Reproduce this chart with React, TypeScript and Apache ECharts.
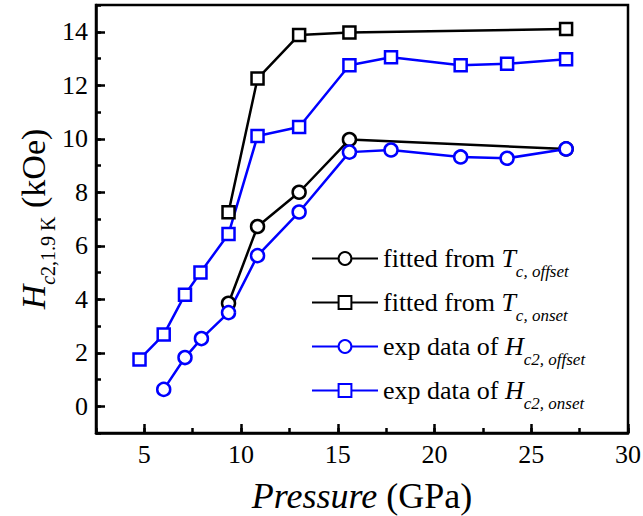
import React, { useEffect, useRef } from 'react';
import * as echarts from 'echarts';

// Pressure (GPa) and Hc2 (kOe) values
const fitOffsetP = [9.35, 10.85, 13.0, 15.6, 26.8];
const fitOffsetH = [3.85, 6.72, 8.0, 9.97, 9.62];
const fitOnsetP = [9.35, 10.85, 13.0, 15.6, 26.8];
const fitOnsetH = [7.25, 12.25, 13.88, 13.97, 14.1];
const expOffsetP = [6.0, 7.1, 7.95, 9.35, 10.85, 13.0, 15.6, 17.75, 21.35, 23.75, 26.8];
const expOffsetH = [0.63, 1.82, 2.53, 3.5, 5.63, 7.26, 9.5, 9.58, 9.32, 9.27, 9.62];
const expOnsetP = [4.75, 6.0, 7.1, 7.9, 9.35, 10.85, 13.0, 15.6, 17.75, 21.35, 23.75, 26.8];
const expOnsetH = [1.75, 2.68, 4.17, 5.0, 6.44, 10.1, 10.44, 12.75, 13.05, 12.75, 12.8, 12.97];

const xMajorTicks = [5, 10, 15, 20, 25, 30];
const yMajorTicks = [0, 2, 4, 6, 8, 10, 12, 14];

const seriesNames = [
  'fitted from Tc, offset',
  'fitted from Tc, onset',
  'exp data of Hc2, offset',
  'exp data of Hc2, onset',
];
const legendRich: Record<string, string> = {
  'fitted from Tc, offset': '{n|fitted from }{i|T}{s|c, offset}',
  'fitted from Tc, onset': '{n|fitted from }{i|T}{s|c, onset}',
  'exp data of Hc2, offset': '{n|exp data of }{i|H}{s|c2, offset}',
  'exp data of Hc2, onset': '{n|exp data of }{i|H}{s|c2, onset}',
};

const FONT = 'Liberation Serif';

const zip = (a: number[], b: number[]) => a.map((v, i) => [v, b[i]]);

export default function App() {
  const ref = useRef<HTMLDivElement>(null);
  useEffect(() => {
    if (!ref.current) return;
    const chart = echarts.init(ref.current, null, { renderer: 'svg' });
    const mk = (name: string, p: number[], h: number[], color: string, symbol: string, size: number) => ({
      name,
      type: 'line',
      data: zip(p, h),
      symbol,
      symbolSize: size,
      showSymbol: true,
      color,
      lineStyle: { color, width: 2.5 },
      itemStyle: { color: '#fff', borderColor: color, borderWidth: 2.5 },
      z: 3,
    });
    const tickLine = { color: '#000', width: 2.5 };
    chart.setOption({
      animation: false,
      backgroundColor: '#fff',
      textStyle: { fontFamily: FONT },
      grid: {
        left: 96,
        right: 15,
        top: 5,
        bottom: 83,
        containLabel: false,
        outerBoundsMode: 'none',
        show: true,
        borderColor: '#000',
        borderWidth: 2.5,
        backgroundColor: 'transparent',
      },
      legend: {
        orient: 'vertical',
        left: 306,
        top: 232,
        itemWidth: 66,
        itemHeight: 16,
        itemGap: 1,
        data: seriesNames,
        formatter: (name: string) => legendRich[name] || name,
        textStyle: {
          fontFamily: FONT,
          fontSize: 26,
          color: '#000',
          rich: {
            n: { fontFamily: FONT, fontSize: 26, color: '#000', lineHeight: 28 },
            i: { fontFamily: FONT, fontSize: 26, fontStyle: 'italic', color: '#000', lineHeight: 28 },
            s: { fontFamily: FONT, fontSize: 17, fontStyle: 'italic', color: '#000', lineHeight: 18, padding: [26, 0, 0, 0] },
          },
        },
      },
      xAxis: [
        {
          type: 'value',
          min: 2.5,
          max: 30,
          interval: 2.5,
          splitLine: { show: false },
          axisLine: { show: true, onZero: false, lineStyle: tickLine },
          axisTick: { show: true, inside: true, length: 9, customValues: xMajorTicks, lineStyle: tickLine },
          axisLabel: { customValues: xMajorTicks, fontFamily: FONT, fontSize: 26, color: '#000', margin: 8 },
          name: '{i|Pressure}{n| (GPa)}',
          nameLocation: 'middle',
          nameGap: 43,
          nameMoveOverlap: false,
          nameTextStyle: {
            fontFamily: FONT,
            rich: {
              i: { fontFamily: FONT, fontSize: 36, fontStyle: 'italic', color: '#000', lineHeight: 40 },
              n: { fontFamily: FONT, fontSize: 36, color: '#000', lineHeight: 40 },
            },
          },
        },
        {
          type: 'value',
          min: 2.5,
          max: 30,
          interval: 2.5,
          position: 'bottom',
          splitLine: { show: false },
          axisLine: { show: false, onZero: false },
          axisLabel: { show: false },
          axisTick: { show: true, inside: true, length: 5, lineStyle: tickLine },
        },
      ],
      yAxis: [
        {
          type: 'value',
          min: -1,
          max: 15,
          interval: 1,
          splitLine: { show: false },
          axisLine: { show: true, onZero: false, lineStyle: tickLine },
          axisTick: { show: true, inside: true, length: 9, customValues: yMajorTicks, lineStyle: tickLine },
          axisLabel: { customValues: yMajorTicks, fontFamily: FONT, fontSize: 26, color: '#000', margin: 8 },
          name: '{i|H}{si|c}{s|2,1.9 K}{n| (kOe)}',
          nameLocation: 'middle',
          nameRotate: 90,
          nameGap: 46,
          nameMoveOverlap: false,
          nameTextStyle: {
            fontFamily: FONT,
            rich: {
              i: { fontFamily: FONT, fontSize: 34, fontStyle: 'italic', color: '#000', lineHeight: 34 },
              n: { fontFamily: FONT, fontSize: 34, color: '#000', lineHeight: 34 },
              si: { fontFamily: FONT, fontSize: 20, fontStyle: 'italic', color: '#000', lineHeight: 20, padding: [30, 0, 0, 0] },
              s: { fontFamily: FONT, fontSize: 20, color: '#000', lineHeight: 20, padding: [30, 0, 0, 0] },
            },
          },
        },
        {
          type: 'value',
          min: -1,
          max: 15,
          interval: 1,
          position: 'left',
          splitLine: { show: false },
          axisLine: { show: false, onZero: false },
          axisLabel: { show: false },
          axisTick: { show: true, inside: true, length: 5, lineStyle: tickLine },
        },
      ],
      series: [
        mk(seriesNames[0], fitOffsetP, fitOffsetH, '#000000', 'circle', 13),
        mk(seriesNames[1], fitOnsetP, fitOnsetH, '#000000', 'rect', 12),
        mk(seriesNames[2], expOffsetP, expOffsetH, '#0000ff', 'circle', 13),
        mk(seriesNames[3], expOnsetP, expOnsetH, '#0000ff', 'rect', 12),
      ],
    });
    return () => chart.dispose();
  }, []);
  return <div ref={ref} style={{ position: 'fixed', left: 0, top: 0, width: 643, height: 516 }} />;
}
